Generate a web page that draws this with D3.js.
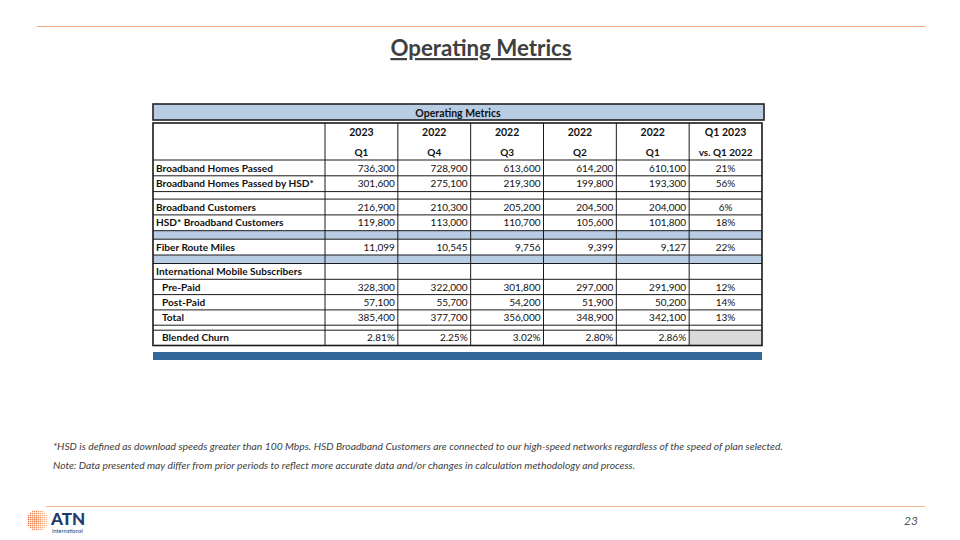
<!DOCTYPE html>
<html><head><meta charset="utf-8">
<script src="https://cdn.jsdelivr.net/npm/d3@7"></script>
<style>body{margin:0;background:#fff}svg{display:block}</style>
</head><body>
<script>
// ---- data ----
const years = ["2023", "2022", "2022", "2022", "2022"];
const quarters = ["Q1", "Q4", "Q3", "Q2", "Q1"];
const changeHeader = ["Q1 2023", "vs. Q1 2022"];
const rowLabels = ["Broadband Homes Passed", "Broadband Homes Passed by HSD*", "", "Broadband Customers", "HSD* Broadband Customers", "", "Fiber Route Miles", "", "International Mobile Subscribers", "Pre-Paid", "Post-Paid", "Total", "", "Blended Churn"];
const rowKinds = ["data", "data", "gap", "data", "data", "blue", "data", "blue", "data", "sub", "sub", "sub", "gap2", "sub"];
const broadbandHomesPassed = [736300, 728900, 613600, 614200, 610100];
const broadbandHomesPassedHSD = [301600, 275100, 219300, 199800, 193300];
const broadbandCustomers = [216900, 210300, 205200, 204500, 204000];
const hsdBroadbandCustomers = [119800, 113000, 110700, 105600, 101800];
const fiberRouteMiles = [11099, 10545, 9756, 9399, 9127];
const prePaid = [328300, 322000, 301800, 297000, 291900];
const postPaid = [57100, 55700, 54200, 51900, 50200];
const totalMobile = [385400, 377700, 356000, 348900, 342100];
const blendedChurn = [0.0281, 0.0225, 0.0302, 0.0280, 0.0286];
const yoyChange = [0.21, 0.56, null, 0.06, 0.18, null, 0.22, null, null, 0.12, 0.14, 0.13, null, null];
const rowValues = [broadbandHomesPassed, broadbandHomesPassedHSD, null, broadbandCustomers, hsdBroadbandCustomers, null, fiberRouteMiles, null, null, prePaid, postPaid, totalMobile, null, blendedChurn];
const footnotes = ["*HSD is defined as download speeds greater than 100 Mbps. HSD Broadband Customers are connected to our high-speed networks regardless of the speed of plan selected.",
  "Note:  Data presented may differ from prior periods to reflect more accurate data and/or changes in calculation methodology and process."];

// ---- layout ----
const W = 960, H = 540;
const svg = d3.select("body").append("svg").attr("width", W).attr("height", H);
const FONT = "Lato, 'Open Sans', sans-serif";
const dark = "#1a1a1a";

// orange rules
svg.append("line").attr("x1", 37).attr("x2", 925).attr("y1", 26.5).attr("y2", 26.5).attr("stroke", "#F2A47A").attr("stroke-width", 1.2);
svg.append("line").attr("x1", 46).attr("x2", 925).attr("y1", 506.5).attr("y2", 506.5).attr("stroke", "#F7B692").attr("stroke-width", 1.2);

// title
svg.append("text").attr("x", 481).attr("y", 56).attr("text-anchor", "middle")
  .attr("font-family", FONT).attr("font-weight", 700).attr("font-size", 22.3).attr("fill", "#404040")
  .attr("text-decoration", "underline").text("Operating Metrics");

// table geometry
const tableLeft = 153, labelRight = 325, tableRight = 762;
const x = d3.scaleBand().domain(d3.range(6)).range([labelRight, tableRight]).paddingInner(0).paddingOuter(0);
const heights = {data: 15.8, sub: 15.3, gap: 7.5, blue: 8.5, gap2: 5};
const headerTop = 123, headerBottom = 160;
let yy = headerBottom;
const rowTops = rowKinds.map(k => { const t = yy; yy += heights[k]; return t; });
const tableBottom = yy;

// title bar
svg.append("rect").attr("x", tableLeft).attr("y", 104).attr("width", 764 - tableLeft).attr("height", 16)
  .attr("fill", "#B8CCE4").attr("stroke", "#222").attr("stroke-width", 1.6);
svg.append("text").attr("x", 458).attr("y", 116.5).attr("text-anchor", "middle").attr("font-family", FONT)
  .attr("font-weight", 700).attr("font-size", 10.5).attr("fill", "#111").text("Operating Metrics");

const g = svg.append("g");
// blue / grey fills
rowKinds.forEach((k, i) => {
  if (k === "blue") g.append("rect").attr("x", tableLeft).attr("y", rowTops[i]).attr("width", tableRight - tableLeft).attr("height", heights[k]).attr("fill", "#B8CCE4");
});
g.append("rect").attr("x", x(5)).attr("y", rowTops[13]).attr("width", x.bandwidth()).attr("height", heights.sub).attr("fill", "#D9D9D9");

// horizontal lines
const hLines = [headerBottom, ...rowTops.slice(1), tableBottom];
hLines.forEach(yv => g.append("line").attr("x1", tableLeft).attr("x2", tableRight).attr("y1", yv).attr("y2", yv).attr("stroke", dark).attr("stroke-width", 1));
// vertical lines
const vx = [labelRight, ...d3.range(1, 6).map(i => x(i))];
vx.forEach(xv => g.append("line").attr("x1", xv).attr("x2", xv).attr("y1", headerTop).attr("y2", tableBottom).attr("stroke", dark).attr("stroke-width", 1));
// outer border
g.append("rect").attr("x", tableLeft).attr("y", headerTop).attr("width", tableRight - tableLeft).attr("height", tableBottom - headerTop)
  .attr("fill", "none").attr("stroke", dark).attr("stroke-width", 1.6);

// header text
const hdr = g.append("g").attr("font-family", FONT).attr("font-weight", 700).attr("font-size", 10.5).attr("fill", "#111").attr("text-anchor", "middle");
years.forEach((yv, i) => {
  hdr.append("text").attr("x", x(i) + x.bandwidth() / 2).attr("y", 136).text(yv);
  hdr.append("text").attr("x", x(i) + x.bandwidth() / 2).attr("y", 156).attr("font-size", 10).text(quarters[i]);
});
hdr.append("text").attr("x", x(5) + x.bandwidth() / 2).attr("y", 136).text(changeHeader[0]);
hdr.append("text").attr("x", x(5) + x.bandwidth() / 2).attr("y", 156).attr("font-size", 10).text(changeHeader[1]);

// rows
const fmtN = d3.format(",");
const fmtP = d3.format(".2%");
const fmtC = d3.format(".0%");
rowLabels.forEach((lab, i) => {
  const k = rowKinds[i];
  const h = heights[k];
  const cy = rowTops[i] + h / 2 + 3.6;
  if (lab) {
    g.append("text").attr("x", tableLeft + (k === "sub" ? 9 : 3)).attr("y", cy)
      .attr("font-family", FONT).attr("font-weight", 700).attr("font-size", 10.1).attr("fill", "#111").text(lab);
  }
  const vals = rowValues[i];
  if (vals) {
    vals.forEach((v, j) => {
      g.append("text").attr("x", x(j) + x.bandwidth() - 3).attr("y", cy).attr("text-anchor", "end")
        .attr("font-family", FONT).attr("font-size", 10).attr("fill", "#111")
        .text(vals === blendedChurn ? fmtP(v) : fmtN(v));
    });
  }
  if (yoyChange[i] != null) {
    g.append("text").attr("x", x(5) + x.bandwidth() / 2).attr("y", cy).attr("text-anchor", "middle")
      .attr("font-family", FONT).attr("font-size", 10).attr("fill", "#111").text(fmtC(yoyChange[i]));
  }
});

// dark blue bar below table
svg.append("rect").attr("x", tableLeft).attr("y", 352).attr("width", tableRight - tableLeft).attr("height", 8).attr("fill", "#336699");

// footnotes
footnotes.forEach((t, i) => {
  svg.append("text").attr("x", 53).attr("y", 450 + i * 19).attr("font-family", FONT).attr("font-style", "italic")
    .attr("font-size", 10.3).attr("fill", "#404040").text(t);
});

// page number
svg.append("text").attr("x", 918).attr("y", 525).attr("text-anchor", "end").attr("font-family", FONT)
  .attr("font-style", "italic").attr("font-size", 12).attr("fill", "#555").text("23");

// logo
const logo = svg.append("g");
const cx0 = 37.5, cy0 = 520.5, R = 11;
for (let yy2 = -R; yy2 <= R; yy2 += 2) {
  for (let xx = -R; xx <= R; xx += 2) {
    const d = Math.hypot(xx, yy2);
    if (d <= R) {
      const t = (xx + R) / (2 * R);
      logo.append("circle").attr("cx", cx0 + xx).attr("cy", cy0 + yy2).attr("r", 1.0 * (1 - d / R * 0.3))
        .attr("fill", d3.interpolateRgb("#E8632B", "#FBC9A6")(t));
    }
  }
}
logo.append("text").attr("x", 51).attr("y", 525).attr("font-family", FONT).attr("font-weight", 900)
  .attr("font-size", 17).attr("fill", "#1F3A6E").text("ATN");
logo.append("text").attr("x", 52).attr("y", 533).attr("font-family", FONT)
  .attr("font-size", 5.5).attr("fill", "#1F3A6E").text("International");
</script>
</body></html>
